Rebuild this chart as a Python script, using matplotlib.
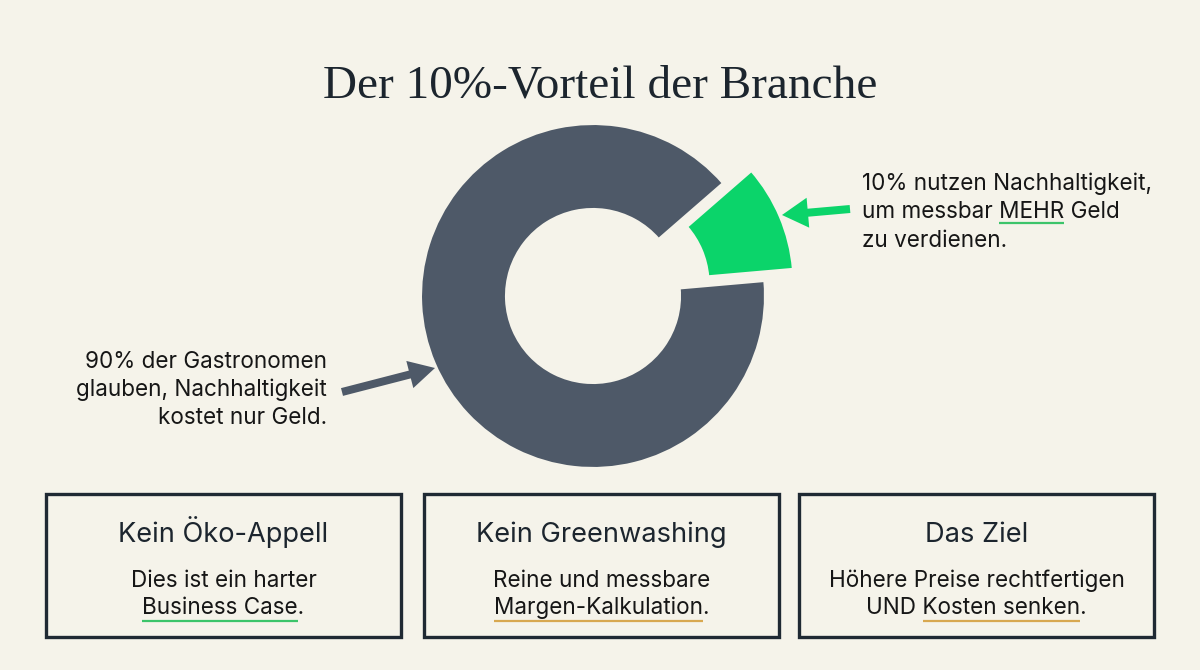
import matplotlib
matplotlib.use("Agg")
import matplotlib.pyplot as plt
from matplotlib.patches import Rectangle

W, H = 1200, 670
BG = "#F5F3EA"
INK = "#1C252E"
GREEN = "#0BD46A"
GRAY = "#4E5968"
UL_GREEN = "#3CC46A"
UL_ORANGE = "#D8A850"

# data
shares = [10, 90]
share_colors = [GREEN, GRAY]
title = "Der 10%-Vorteil der Branche"
right_note = ["10% nutzen Nachhaltigkeit,", "um messbar MEHR Geld", "zu verdienen."]
left_note = ["90% der Gastronomen", "glauben, Nachhaltigkeit", "kostet nur Geld."]
box_titles = ["Kein Öko-Appell", "Kein Greenwashing", "Das Ziel"]
box_lines = [["Dies ist ein harter", "Business Case."],
             ["Reine und messbare", "Margen-Kalkulation."],
             ["Höhere Preise rechtfertigen", "UND Kosten senken."]]
box_underlines = ["Business Case", "Margen-Kalkulation", "Kosten senken"]
box_ul_colors = [UL_GREEN, UL_ORANGE, UL_ORANGE]

plt.rcParams['font.family'] = ['Inter', 'DejaVu Sans']

fig = plt.figure(figsize=(W / 100, H / 100), dpi=100, facecolor=BG)
ax = fig.add_axes([0, 0, 1, 1])
ax.set_facecolor(BG)


def Y(y):
    return H - y


# donut
ax.pie(shares, colors=share_colors, startangle=5, counterclock=True,
       radius=172, center=(593, Y(296)), explode=[31, 0],
       wedgeprops=dict(width=85, edgecolor=BG, linewidth=1.5))

ax.set_xlim(0, W)
ax.set_ylim(0, H)
ax.set_aspect('auto')
ax.axis('off')

renderer = fig.canvas.get_renderer()


def text_width(s, fp):
    tmp = ax.text(0, 0, s, fontproperties=fp)
    w = tmp.get_window_extent(renderer).width
    tmp.remove()
    return w


def underline(t, full, sub, color, y):
    bb = t.get_window_extent(renderer)
    fp = t.get_fontproperties()
    i = full.index(sub)
    x1 = bb.x0 + text_width(full[:i + len(sub)], fp)
    x0 = x1 - text_width(sub, fp)
    ax.plot([x0, x1], [Y(y), Y(y)], color=color, lw=1.6, solid_capstyle='butt')


# title
ax.text(600, Y(97), title, ha='center', va='baseline', fontsize=34,
        family='Liberation Serif', color=INK)

# right annotation
for line, yb in zip(right_note, [190, 218, 247]):
    t = ax.text(862, Y(yb), line, ha='left', va='baseline', fontsize=16.2, color="#161616")
    if "MEHR" in line:
        underline(t, line, "MEHR", UL_GREEN, 223)
ax.arrow(850, Y(209), -68, -6, width=8, head_width=30, head_length=26,
         length_includes_head=True, color=GREEN, lw=0)

# left annotation
for line, yb in zip(left_note, [368, 396, 424]):
    ax.text(327, Y(yb), line, ha='right', va='baseline', fontsize=16.2, color="#161616")
ax.arrow(342, Y(392), 93, 24, width=8, head_width=28, head_length=26,
         length_includes_head=True, color=GRAY, lw=0)

# boxes
box_lefts = [46, 424, 799]
box_w = 355
for x0, bt, lines, ul, ulc in zip(box_lefts, box_titles, box_lines, box_underlines, box_ul_colors):
    ax.add_patch(Rectangle((x0, Y(637)), box_w, 143, facecolor=BG,
                           edgecolor="#1F2933", lw=2.4))
    cx = x0 + box_w / 2
    ax.text(cx, Y(542), bt, ha='center', va='baseline', fontsize=19.6, color=INK)
    for line, yb in zip(lines, [587, 614]):
        t = ax.text(cx, Y(yb), line, ha='center', va='baseline', fontsize=16.2, color="#161616")
        if ul in line:
            underline(t, line, ul, ulc, 621)

fig.savefig("out.png", dpi=100, facecolor=BG)
